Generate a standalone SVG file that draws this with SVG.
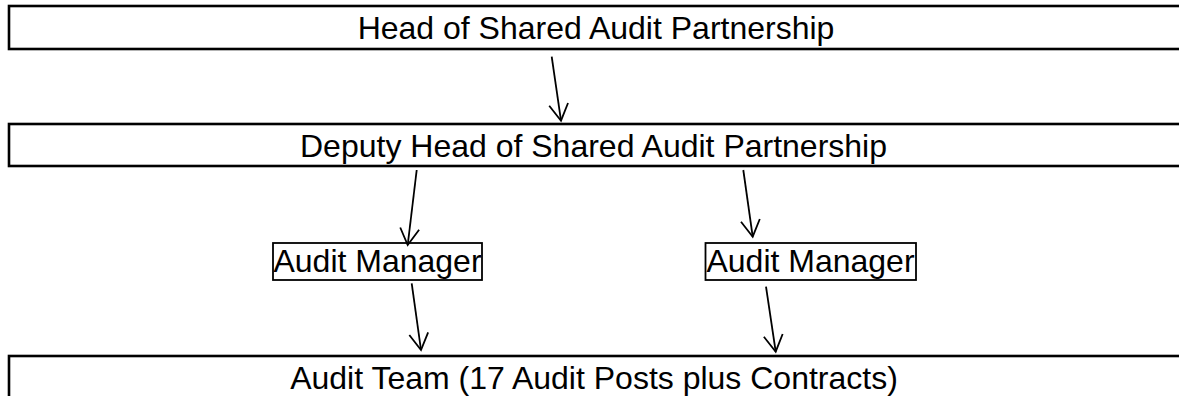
<svg xmlns="http://www.w3.org/2000/svg" width="1179" height="396" viewBox="0 0 1179 396">
  <style>
    .band { fill: #ffffff; stroke: #000000; stroke-width: 2.6; }
    .post { fill: #ffffff; stroke: #000000; stroke-width: 1.8; }
    .label { font-family: "Liberation Sans", Arial, sans-serif; font-size: 32px; fill: #000000; text-anchor: middle; }
    .link { stroke: #000000; stroke-width: 1.8; fill: none; marker-end: url(#open-arrow); }
  </style>
  <defs>
    <marker id="open-arrow" markerUnits="userSpaceOnUse" markerWidth="40" markerHeight="40" refX="0" refY="0" orient="auto" overflow="visible">
      <path d="M -16.5 -9.5 L 0 0 L -16.5 9.5" fill="none" stroke="#000000" stroke-width="1.8" stroke-linejoin="miter"/>
    </marker>
  </defs>
  <rect width="1179" height="396" fill="#ffffff"/>

  <g id="head">
    <rect class="band" x="9" y="6" width="1190" height="43"/>
    <text class="label" x="596" y="39">Head of Shared Audit Partnership</text>
  </g>

  <g id="deputy-head">
    <rect class="band" x="9" y="124" width="1190" height="42"/>
    <text class="label" x="593.5" y="157">Deputy Head of Shared Audit Partnership</text>
  </g>

  <g id="audit-manager-1">
    <rect class="post" x="273" y="243" width="209" height="37"/>
    <text class="label" x="377.5" y="272">Audit Manager</text>
  </g>

  <g id="audit-manager-2">
    <rect class="post" x="705.5" y="243" width="210.5" height="37"/>
    <text class="label" x="810.5" y="272">Audit Manager</text>
  </g>

  <g id="audit-team">
    <rect class="band" x="9" y="356" width="1190" height="60"/>
    <text class="label" x="594" y="389">Audit Team (17 Audit Posts plus Contracts)</text>
  </g>

  <g id="connectors">
    <line class="link" x1="551.7" y1="56.7" x2="561" y2="120.7"/>
    <line class="link" x1="416.7" y1="170" x2="407.7" y2="245"/>
    <line class="link" x1="743.3" y1="170" x2="752.7" y2="236.7"/>
    <line class="link" x1="411.7" y1="283.3" x2="421" y2="350"/>
    <line class="link" x1="766" y1="286.7" x2="775.7" y2="351.7"/>
  </g>
</svg>
